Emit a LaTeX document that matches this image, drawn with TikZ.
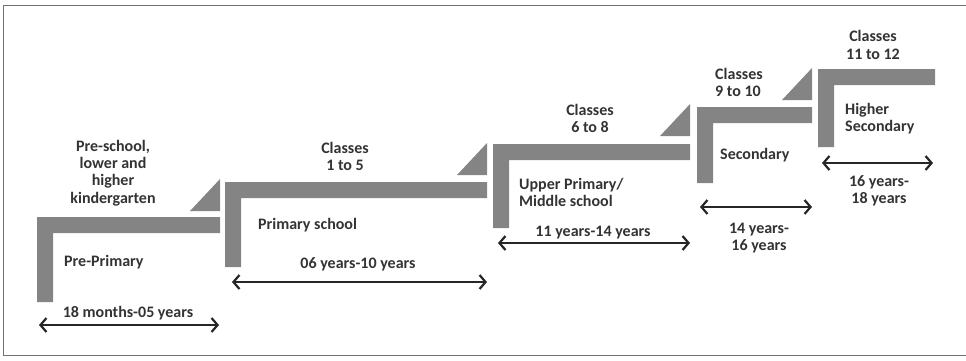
\documentclass[tikz,border=0pt]{standalone}
\usepackage{fontspec}
\setmainfont{Carlito}
\usetikzlibrary{arrows.meta}
\definecolor{stepgray}{RGB}{132,132,132}
\newcommand{\stairL}[4]{\fill[stepgray] (#1,#2) -- (#3,#2) -- (#3,#2+16) -- (#1+16,#2+16) -- (#1+16,#4) -- (#1,#4) -- cycle;}
\newcommand{\stairwedge}[2]{\fill[stepgray] (#1,#2) -- (#1-30,#2) -- (#1,#2-32) -- cycle;}

\begin{document}
\begin{tikzpicture}[x=1pt, y=-1pt,
    lbl/.style={font=\fontsize{16}{17.4}\selectfont\bfseries, text=black!80, inner sep=0pt, align=center},
    lbll/.style={lbl, anchor=west, align=left},
    span/.style={{Straight Barb[length=6pt,width=14pt]}-{Straight Barb[length=6pt,width=14pt]}, line width=2.2pt, black!85}]
        \useasboundingbox (0,0) rectangle (966,360);
        \draw[black!55, line width=1pt] (966,5) -- (3,5) -- (3,355) -- (966,355);
        % step 1
        \stairL{37}{217}{220}{302}
        \stairwedge{220}{211}
        \node[lbl] (kg) at (113,173) {Pre-school,\\lower and\\higher\\kindergarten};
        \node[lbll] (pp) at (64,262) {Pre-Primary};
        \node[lbl] (ageA) at (128,313) {18 months-05 years};
        \coordinate (a1) at (39,325);
        \coordinate (a2) at (219,325);
        \draw[span] (a1) -- (a2);
        % step 2
        \stairL{225}{182}{487}{267}
        \stairwedge{487}{175}
        \node[lbl] (cl15) at (345,156.5) {Classes\\1 to 5};
        \node[lbll] (ps) at (258,225) {Primary school};
        \node[lbl] (ageB) at (358,264) {06 years-10 years};
        \coordinate (b1) at (232,282);
        \coordinate (b2) at (487,282);
        \draw[span] (b1) -- (b2);
        % step 3
        \stairL{493}{144}{690}{228}
        \stairwedge{690}{136}
        \node[lbl] (cl68) at (590,118.5) {Classes\\6 to 8};
        \node[lbll] (up) at (519,192.5) {Upper Primary/\\Middle school};
        \node[lbl] (ageC) at (593,233) {11 years-14 years};
        \coordinate (c1) at (498,243);
        \coordinate (c2) at (690,243);
        \draw[span] (c1) -- (c2);
        % step 4
        \stairL{697}{107}{812}{183}
        \stairwedge{812}{100}
        \node[lbll] (cl910) at (715,82.5) {Classes\\9 to 10};
        \node[lbll] (sec) at (720,155) {Secondary};
        \node[lbl] (ageD) at (759,238) {14 years-\\16 years};
        \coordinate (d1) at (700,207);
        \coordinate (d2) at (812,207);
        \draw[span] (d1) -- (d2);
        % step 5
        \stairL{818}{69}{935}{147}
        \node[lbl] (cl1112) at (873,45) {Classes\\11 to 12};
        \node[lbll] (hs) at (845,118.5) {Higher\\Secondary};
        \node[lbl] (ageE) at (879,190.5) {16 years-\\18 years};
        \coordinate (e1) at (822,163);
        \coordinate (e2) at (933,163);
        \draw[span] (e1) -- (e2);
\end{tikzpicture}
\end{document}
